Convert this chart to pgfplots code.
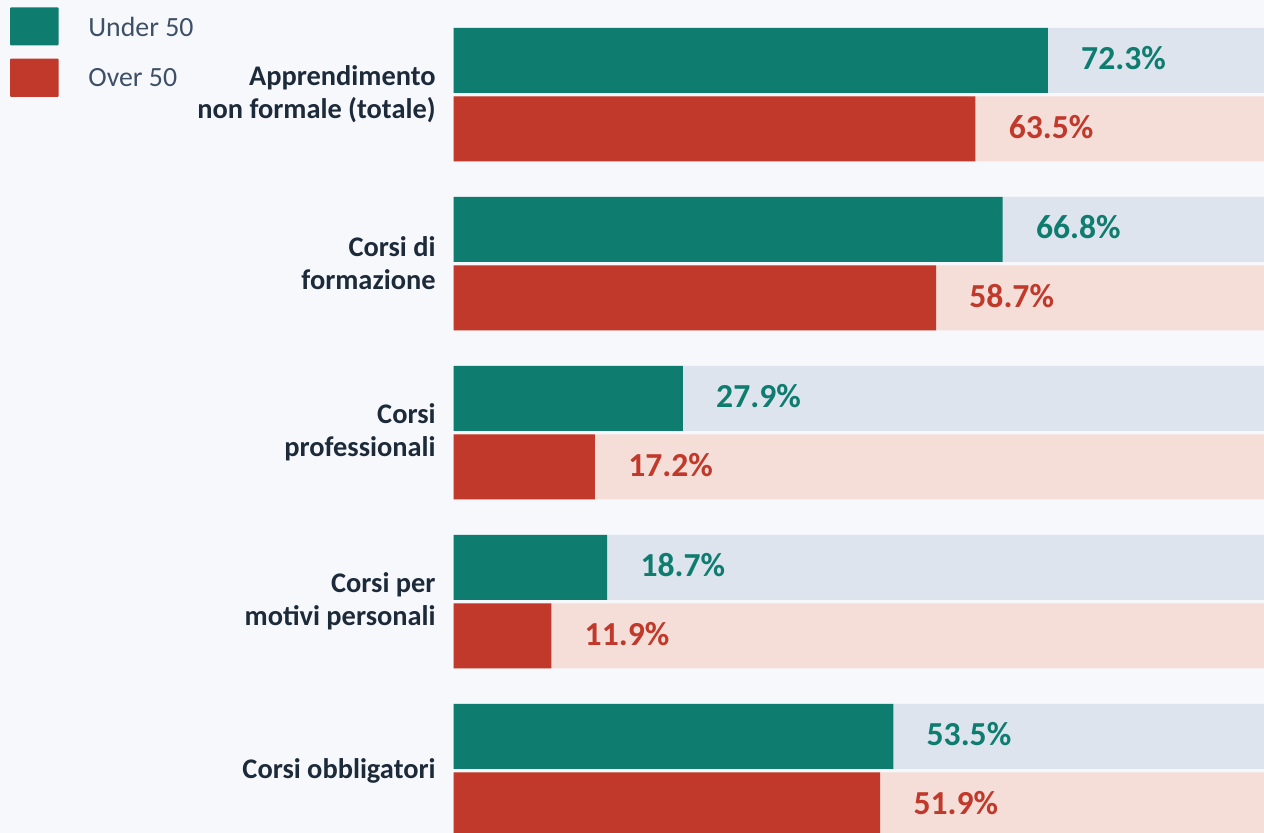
\documentclass[border=0pt]{standalone}
\usepackage{fontspec}
\setmainfont{Carlito}
\usepackage{pgfplots}
\pgfplotsset{compat=1.18}
\definecolor{teal1}{HTML}{0E7C6F}
\definecolor{red1}{HTML}{C0392B}
\definecolor{trackT}{HTML}{DDE4EE}
\definecolor{trackR}{HTML}{F5DDD8}
\definecolor{bg}{HTML}{F7F8FC}
\definecolor{labelc}{HTML}{1C2A3A}
\definecolor{legc}{HTML}{3E5067}
\begin{document}
\begin{tikzpicture}
\useasboundingbox (0pt,0pt) rectangle (632pt,-416.5pt);
\clip (0pt,0pt) rectangle (632pt,-416.5pt);
\fill[bg] (0pt,0pt) rectangle (632pt,-416.5pt);
\begin{scope}[x=0.5pt,y=-0.5pt]
\fill[teal1, rounded corners=0.5pt] (10,7.3) rectangle (58.7,45.3);
\fill[red1, rounded corners=0.5pt] (10,58.7) rectangle (58.7,97);
\node[anchor=west, inner sep=0pt, text=legc, font=\fontsize{13.9}{16}\selectfont] at (88,27) {Under 50};
\node[anchor=west, inner sep=0pt, text=legc, font=\fontsize{13.9}{16}\selectfont] at (88,78) {Over 50};
\end{scope}
\begin{axis}[
  at={(226.75pt,0pt)}, anchor=north west,
  scale only axis, width=405.25pt, height=416.5pt,
  xmin=0, xmax=98.6, ymin=-0.5592, ymax=4.3698, y dir=reverse,
  axis line style={draw=none}, xtick=\empty,
  ytick={0,1,2,3,4}, major tick length=0pt,
  yticklabels={{Apprendimento\\non formale (totale)},{Corsi di\\formazione},{Corsi\\professionali},{Corsi per\\motivi personali},{Corsi obbligatori}},
  yticklabel style={align=right, inner sep=0pt, xshift=-8.75pt, text=labelc, font=\bfseries\fontsize{14.2}{16.5}\selectfont},
  xbar, bar width=32.5pt,
  /pgf/number format/assume math mode=true,
  clip=true,
]
\addplot[xbar, fill=trackT, draw=none, bar shift=17.125pt] coordinates {(100,0) (100,1) (100,2) (100,3) (100,4)};
\addplot[xbar, fill=trackR, draw=none, bar shift=-17.125pt] coordinates {(100,0) (100,1) (100,2) (100,3) (100,4)};
\addplot[xbar, fill=teal1, draw=none, bar shift=17.125pt,
  nodes near coords={\pgfmathprintnumber[fixed,precision=1,fixed zerofill]{\pgfplotspointmeta}\%},
  nodes near coords style={anchor=west, inner sep=0pt, xshift=16.5pt, yshift=1pt, text=teal1, font=\bfseries\fontsize{16.8}{20}\selectfont}]
  coordinates {(72.3,0) (66.8,1) (27.9,2) (18.7,3) (53.5,4)};
\addplot[xbar, fill=red1, draw=none, bar shift=-17.125pt,
  nodes near coords={\pgfmathprintnumber[fixed,precision=1,fixed zerofill]{\pgfplotspointmeta}\%},
  nodes near coords style={anchor=west, inner sep=0pt, xshift=16.5pt, yshift=1pt, text=red1, font=\bfseries\fontsize{16.8}{20}\selectfont}]
  coordinates {(63.5,0) (58.7,1) (17.2,2) (11.9,3) (51.9,4)};
\end{axis}
\end{tikzpicture}
\end{document}
